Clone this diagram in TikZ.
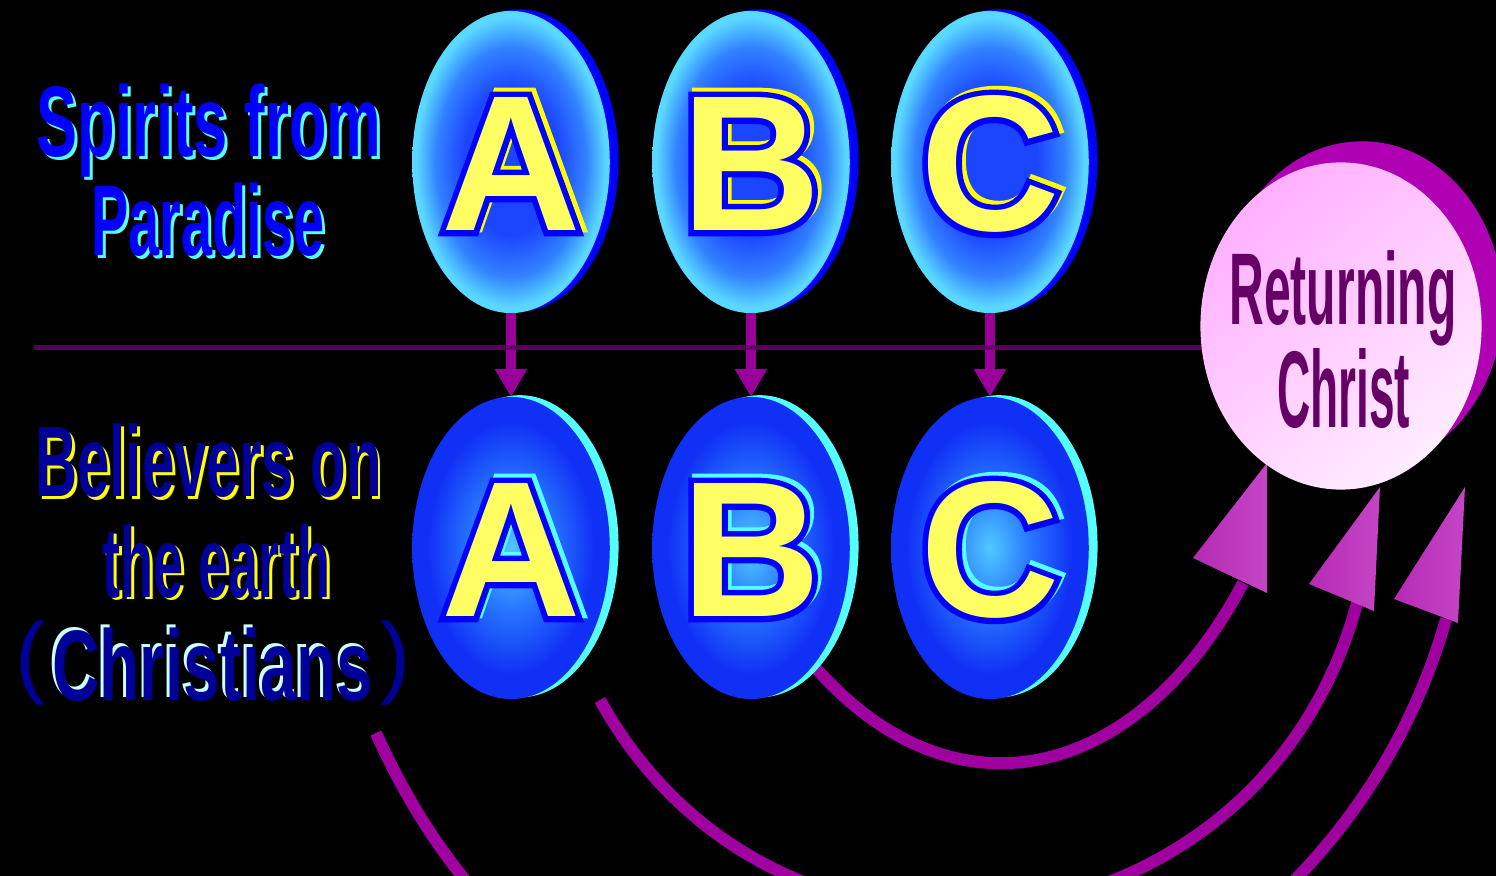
\documentclass[tikz,border=0pt]{standalone}
\usepackage{fontspec}
\setmainfont{Liberation Sans}
\newfontfamily\edgefont{Liberation Sans Bold}[FakeBold=6]
\usetikzlibrary{shapes.geometric,arrows.meta,shadows,backgrounds}

\definecolor{ovalcore}{RGB}{27, 69, 255}
\definecolor{ovalmid}{RGB}{50, 130, 255}
\definecolor{ovalrim}{RGB}{90, 216, 255}
\definecolor{topshade}{RGB}{0, 0, 255}
\definecolor{botcore}{RGB}{80, 200, 255}
\definecolor{botmid}{RGB}{40, 120, 255}
\definecolor{botrim}{RGB}{16, 48, 245}
\definecolor{cyanrim}{RGB}{85, 255, 255}
\definecolor{letterfill}{RGB}{255, 255, 100}
\definecolor{letteredge}{RGB}{0, 0, 255}
\definecolor{letterglow}{RGB}{255, 255, 0}
\definecolor{spiritblue}{RGB}{0, 0, 255}
\definecolor{spiritglow}{RGB}{90, 255, 255}
\definecolor{earthnavy}{RGB}{0, 0, 153}
\definecolor{earthglow}{RGB}{255, 255, 0}
\definecolor{christianglow}{RGB}{204, 255, 255}
\definecolor{divider}{RGB}{102, 0, 102}
\definecolor{arrowpurple}{RGB}{153, 0, 153}
\definecolor{swingpurple}{RGB}{160, 0, 160}
\definecolor{ballpink}{RGB}{255, 176, 255}
\definecolor{ballpale}{RGB}{255, 236, 255}
\definecolor{ballshadow}{RGB}{176, 0, 180}
\definecolor{christink}{RGB}{102, 0, 102}
\definecolor{tipdark}{RGB}{181, 42, 181}
\definecolor{tiplight}{RGB}{247, 198, 247}
\definecolor{tipmid}{RGB}{197, 69, 197}

\pgfdeclareradialshading{topglow}{\pgfpoint{0bp}{0bp}}{color(0bp)=(ovalcore); color(12bp)=(ovalcore); color(19bp)=(ovalmid); color(24bp)=(ovalrim); color(50bp)=(ovalrim)}
\pgfdeclareradialshading{botglow}{\pgfpoint{0bp}{0bp}}{color(0bp)=(botcore); color(10bp)=(botmid); color(21bp)=(botrim); color(25bp)=(botrim); color(50bp)=(botrim)}

% outlined letter with an offset glow behind it
\newcommand\ovalletter[2]{%
  \rlap{\hspace*{1.1pt}\raisebox{1.1pt}{\edgefont\textcolor{#1}{#2}}}%
  \rlap{\edgefont\textcolor{letteredge}{#2}}%
  \textcolor{letterfill}{#2}}

% text with an offset copy behind it
\newcommand\glowtext[4]{%
  \rlap{\hspace*{#2}\raisebox{#3}{\textcolor{#1}{#4}}}#4}

\begin{document}
\begin{tikzpicture}[x=0.01cm, y=-0.01cm,
  oval/.style={ellipse, minimum width=1.89cm, minimum height=3.02cm, inner sep=0pt, outer sep=0pt, shade, font=\fontsize{55}{60}\selectfont\bfseries},
  topoval/.style={oval, shading=topglow, drop shadow={shadow xshift=2.5pt, shadow yshift=0.5pt, fill=topshade, opacity=1}},
  botoval/.style={oval, shading=botglow, drop shadow={shadow xshift=2.5pt, shadow yshift=0.5pt, fill=cyanrim, opacity=1}},
  droparrow/.style={arrowpurple, line width=3.1pt, -{Triangle[width=8.8pt, length=8pt]}},
  wordart/.style={anchor=base, inner sep=0pt, font=\fontsize{28.5}{30}\selectfont\bfseries},
  ball/.style={ellipse, minimum width=2.81cm, minimum height=3.27cm, inner sep=0pt, outer sep=0pt, top color=ballpink, bottom color=ballpale, shading angle=40, drop shadow={shadow xshift=6pt, shadow yshift=6pt, fill=ballshadow, opacity=1}},
  ballword/.style={anchor=base, inner sep=0pt, text=christink, font=\bfseries},
  swing/.style={swingpurple, line width=3.4pt},
  swinghead/.style={left color=tipdark, middle color=tiplight, right color=tipmid}]

\useasboundingbox (0,0) rectangle (1496,876);
\begin{pgfonlayer}{background}
  \fill[black] (0,0) rectangle (1496,876);
\end{pgfonlayer}

% Spirits above, believers below, joined by down arrows
\foreach \ltr/\xx in {A/511, B/751, C/990} {
  \node[topoval] (top\ltr) at (\xx,162) {\ovalletter{letterglow}{\ltr}};
  \node[botoval] (bot\ltr) at (\xx,548) {\ovalletter{cyanrim}{\ltr}};
  \draw[droparrow] (top\ltr) -- (bot\ltr);
}

% Dividing line
\coordinate (divL) at (34,347.5);
\coordinate (divR) at (1240,347.5);
\draw[divider, line width=1.4pt, opacity=0.85] (divL) -- (divR);

% Returning Christ
\node[ball] (christ) at (1341,326) {};
\node[ballword, font=\fontsize{29}{30}\selectfont\bfseries] (retword) at (1343,325) {\scalebox{0.471}[1]{Returning}};
\node[ballword, font=\fontsize{31}{32}\selectfont\bfseries] (chrword) at (1343.5,428) {\scalebox{0.422}[1]{Christ}};

% Row labels on the left
\node[wordart, text=spiritblue] (spirit1) at (209,157) {\glowtext{spiritglow}{0.85pt}{-0.85pt}{\scalebox{0.613}[1]{Spirits from}}};
\node[wordart, text=spiritblue] (spirit2) at (208,256) {\glowtext{spiritglow}{0.85pt}{-0.85pt}{\scalebox{0.557}[1]{Paradise}}};
\node[wordart, text=earthnavy] (earth1) at (208.5,497) {\glowtext{earthglow}{0.85pt}{-0.85pt}{\scalebox{0.581}[1]{Believers on}}};
\node[wordart, text=earthnavy] (earth2) at (216.5,597) {\glowtext{earthglow}{0.85pt}{-0.85pt}{\scalebox{0.54}[1]{the earth}}};
\node[wordart, text=earthnavy] (christians) at (213,700) {\glowtext{christianglow}{-0.85pt}{0.85pt}{\scalebox{0.655}[1]{Christians}}};
\node[anchor=base, inner sep=0pt, text=earthnavy, font=\fontsize{25.7}{27}\selectfont] (parenL) at (31,686) {(};
\node[anchor=base, inner sep=0pt, text=earthnavy, font=\fontsize{25.7}{27}\selectfont] (parenR) at (396,686) {)};

% Swinging arrows up to the returning Christ
\coordinate (swingA) at (600,700);
\coordinate (swingL) at (376,733);
\coordinate (landB) at (1243,583);
\coordinate (landA) at (1357,603);
\coordinate (landL) at (1446,619);
\begin{pgfonlayer}{background}
  \draw[swing] (botB.-62) .. controls (956,829) and (1140,778) .. (landB);
  \draw[swing] (swingA) .. controls (779,1024) and (1261,961) .. (landA);
  \draw[swing] (swingL) .. controls (621,1281) and (1311,1099) .. (landL);
  \foreach \tx/\ty/\lx/\ly/\rx/\ry in {1267/463/1193/558/1267/593, 1380/487/1309/584/1374/611, 1465/487/1394/599/1458/623} {
    \shade[swinghead] (\tx,\ty) -- (\lx,\ly) -- (\rx,\ry) -- cycle;
  }
\end{pgfonlayer}

\end{tikzpicture}
\end{document}
